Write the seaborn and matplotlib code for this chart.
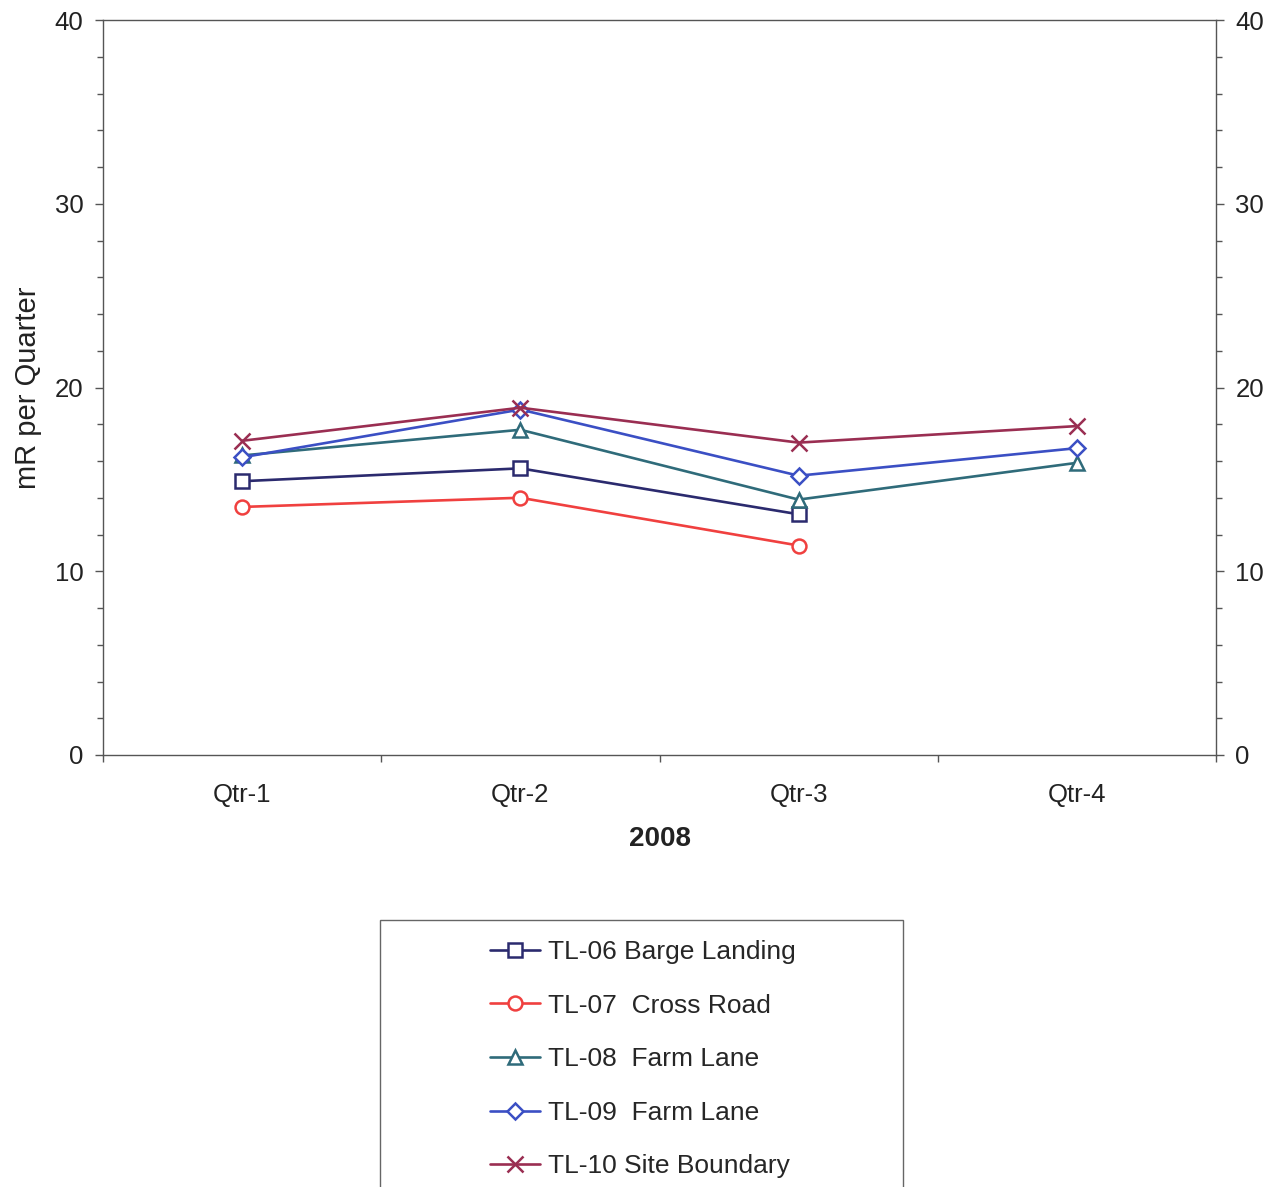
import pandas as pd
import numpy as np
import matplotlib
matplotlib.use("Agg")
import matplotlib.pyplot as plt
from matplotlib.patches import Rectangle
from matplotlib.ticker import MultipleLocator, FixedLocator
import seaborn as sns

# datos
quarters = ["Qtr-1", "Qtr-2", "Qtr-3", "Qtr-4"]
tl06 = [14.9, 15.6, 13.1, np.nan]
tl07 = [13.5, 14.0, 11.4, np.nan]
tl08 = [16.3, 17.7, 13.9, 15.9]
tl09 = [16.2, 18.8, 15.2, 16.7]
tl10 = [17.1, 18.9, 17.0, 17.9]

series_names = ["TL-06 Barge Landing", "TL-07  Cross Road", "TL-08  Farm Lane",
                "TL-09  Farm Lane", "TL-10 Site Boundary"]
series_values = [tl06, tl07, tl08, tl09, tl10]
colors = ["#2B2A6E", "#F0403F", "#2F6B7A", "#3B4FC4", "#9A2E52"]
markers = ["s", "o", "^", "D", "x"]
msizes = [10, 10, 10, 8, 11]

sns.set_style("white")
plt.rcParams['font.family'] = ['Liberation Sans', 'DejaVu Sans']

fig = plt.figure(figsize=(12.8, 11.87), dpi=100)
ax = fig.add_axes([103 / 1280, 1 - 755 / 1187, 1113 / 1280, 735 / 1187])

for name, vals, c, m, ms in zip(series_names, series_values, colors, markers, msizes):
    df = pd.DataFrame({"Quarter": quarters, "Valor": vals})
    sns.lineplot(data=df, x="Quarter", y="Valor", ax=ax, color=c, marker=m,
                 markersize=ms, markerfacecolor="white", markeredgecolor=c,
                 markeredgewidth=1.8, linewidth=1.9, label=name, sort=False)

ax.set_xlim(-0.5, 3.5)
ax.set_ylim(0, 40)
ax.yaxis.set_major_locator(MultipleLocator(10))
ax.yaxis.set_minor_locator(MultipleLocator(2))
ax.xaxis.set_minor_locator(FixedLocator([-0.5, 0.5, 1.5, 2.5, 3.5]))

ax.tick_params(axis="y", which="both", direction="out", left=True, right=True,
               labelleft=True, labelright=True, colors="#555555",
               labelcolor="#222222", labelsize=18.5)
ax.tick_params(axis="y", which="major", length=6, width=1, pad=8)
ax.tick_params(axis="y", which="minor", length=4.5, width=1)
ax.tick_params(axis="x", which="major", length=0, pad=20, labelsize=18.5,
               labelcolor="#222222")
ax.tick_params(axis="x", which="minor", bottom=True, length=5, width=1,
               direction="out", color="#555555")

for s in ax.spines.values():
    s.set_visible(True)
    s.set_color("#555555")
    s.set_linewidth(1)

ax.set_ylabel("mR per Quarter", fontsize=21, color="#222222")
ax.yaxis.set_label_coords(-0.055, 0.5)
ax.set_xlabel("2008", fontsize=20, fontweight="bold", color="#222222")
ax.xaxis.set_label_coords(0.5, -0.097)

handles, labels = ax.get_legend_handles_labels()
ax.get_legend().remove()
fig.legend(handles, labels, loc="upper center", bbox_to_anchor=(0.502, 0.228),
           frameon=False, fontsize=19, handlelength=1.9, handletextpad=0.3,
           labelspacing=1.12, borderpad=0.4)

fig.patches.append(Rectangle((380 / 1280, 1 - 1192 / 1187), 523 / 1280, 272 / 1187,
                             transform=fig.transFigure, fill=False,
                             edgecolor="#666666", linewidth=1))

fig.savefig("out.png", dpi=100)
